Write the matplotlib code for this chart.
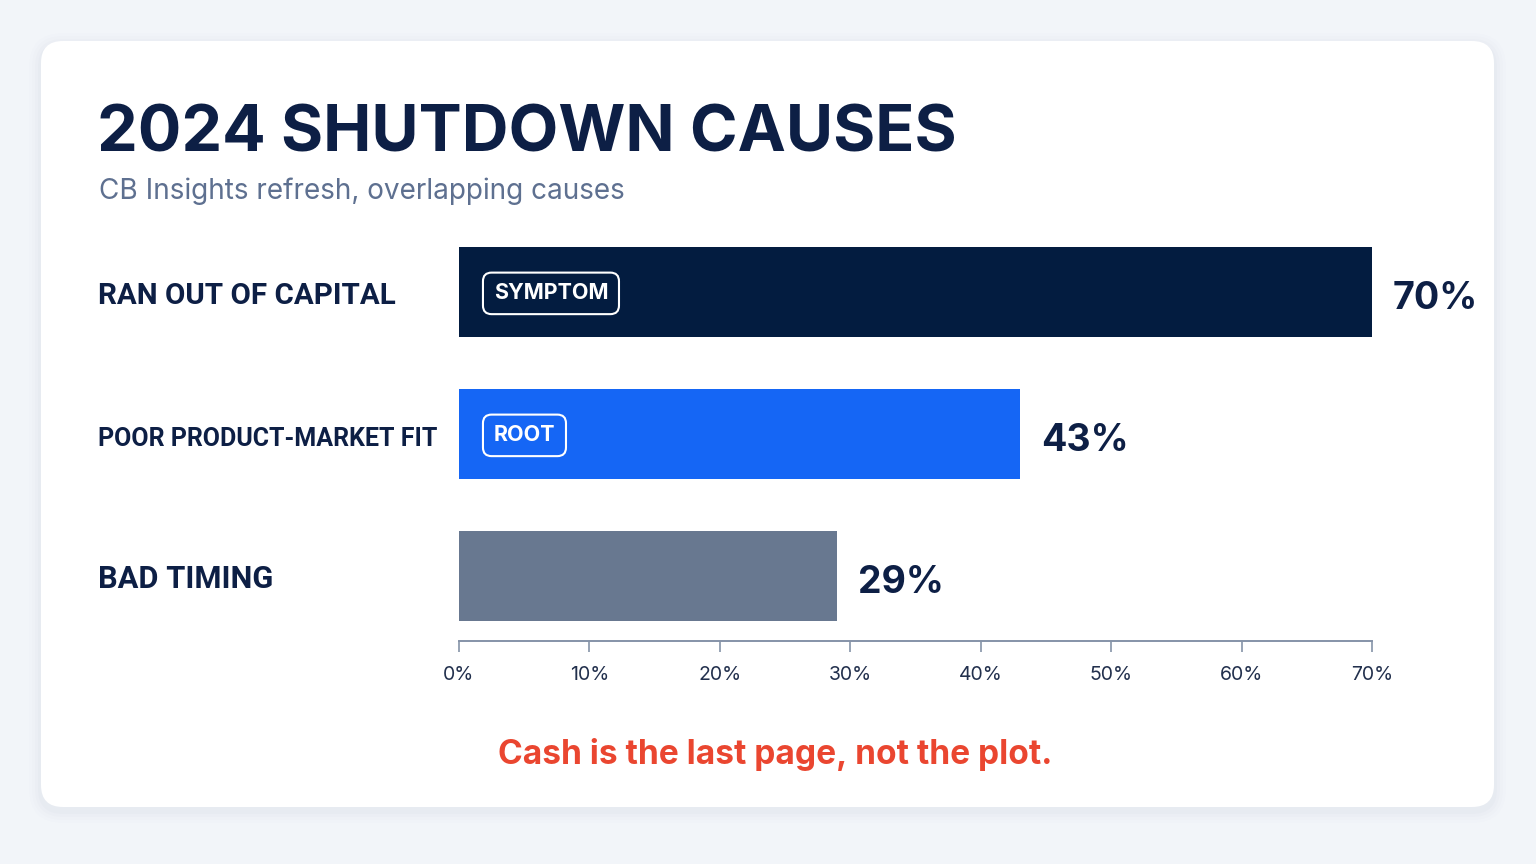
import matplotlib
matplotlib.use("Agg")
import matplotlib.pyplot as plt
from matplotlib.patches import FancyBboxPatch

# ---------------- data ----------------
categories = ["RAN OUT OF CAPITAL", "POOR PRODUCT-MARKET FIT", "BAD TIMING"]
values = [70, 43, 29]
badges = ["SYMPTOM", "ROOT", ""]
bar_colors = ["#031C40", "#1566F5", "#687890"]
xticks = [0, 10, 20, 30, 40, 50, 60, 70]
xtick_labels = [f"{t}%" for t in xticks]
title = "2024 SHUTDOWN CAUSES"
subtitle = "CB Insights refresh, overlapping causes"
footer = "Cash is the last page, not the plot."

# ---------------- style ----------------
W, H = 1536, 864
BG = "#F2F5F9"
NAVY = "#0D1F45"
SUB = "#5E7090"
RED = "#EA4630"
AXIS = "#8593A8"
FONT = ["Inter", "DejaVu Sans"]
LABEL_FONT = ["Liberation Sans Narrow", "Roboto", "DejaVu Sans"]

fig = plt.figure(figsize=(W / 100, H / 100), dpi=100)
fig.patch.set_facecolor(BG)

# pixel-space background axes
ax0 = fig.add_axes([0, 0, 1, 1], zorder=0)
ax0.set_xlim(0, W)
ax0.set_ylim(H, 0)
ax0.axis("off")

# card shadow + card
for i, a in enumerate([0.018, 0.014, 0.010, 0.006]):
    g = 3 + i * 3
    ax0.add_patch(FancyBboxPatch((41 - g, 41 - g + 4), 1453 + 2 * g, 766 + 2 * g,
                                 boxstyle=f"round,pad=0,rounding_size={22 + g}",
                                 fc="#51607a", ec="none", alpha=a))
ax0.add_patch(FancyBboxPatch((41, 41), 1453, 766,
                             boxstyle="round,pad=0,rounding_size=22",
                             fc="white", ec="none"))

renderer = fig.canvas.get_renderer()


def fit(t, target_w):
    w = t.get_window_extent(renderer).width
    t.set_fontsize(t.get_fontsize() * target_w / w)
    return t


fit(ax0.text(97, 152, title, fontsize=50, fontweight="bold", color=NAVY,
             family=FONT, va="baseline", ha="left"), 860)
fit(ax0.text(99, 199, subtitle, fontsize=22, color=SUB,
             family=FONT, va="baseline", ha="left"), 527)

label_baselines = [304, 446, 588]
label_widths = [297, 339, 175]
for cat, yb, lw_ in zip(categories, label_baselines, label_widths):
    fit(ax0.text(98, yb, cat, fontsize=22, fontweight="bold", color=NAVY,
                 family=LABEL_FONT, va="baseline", ha="left"), lw_)

ft = ax0.text(775, 764, footer, fontsize=22, fontweight="bold", color=RED,
              family=FONT, va="baseline", ha="center")
fit(ft, 553)

# ---------------- bar axes ----------------
x0_px, x1_px = 459, 1372
top_px, bot_px = 220, 641
ax = fig.add_axes([x0_px / W, 1 - bot_px / H, (x1_px - x0_px) / W, (bot_px - top_px) / H],
                  zorder=2)
ax.patch.set_alpha(0)
ypos = list(range(len(categories)))
ax.barh(ypos, values, height=0.64, color=bar_colors, zorder=2)
ax.set_xlim(0, 70)
ax.set_ylim(2.458, -0.507)
ax.set_yticks([])
for s in ["top", "right", "left"]:
    ax.spines[s].set_visible(False)
ax.spines["bottom"].set_color(AXIS)
ax.spines["bottom"].set_linewidth(1.4)
ax.set_xticks(xticks)
ax.set_xticklabels(xtick_labels, family=FONT, fontsize=14, color="#22304D")
ax.tick_params(axis="x", length=8, width=1.2, color=AXIS, pad=10)

# value labels
for i, v in enumerate(values):
    ax.annotate(f"{v}%", xy=(v, i), xytext=(15, -12.5), textcoords="offset points",
                ha="left", va="baseline", fontsize=27, fontweight="bold",
                color=NAVY, family=FONT)

# badges
for i, b in enumerate(badges):
    if not b:
        continue
    ax.annotate(b, xy=(0, i), xytext=(25, -1), textcoords="offset points",
                ha="left", va="center", fontsize=15.5, fontweight="bold",
                color="white", family=FONT,
                bbox=dict(boxstyle="round,pad=0.5,rounding_size=0.4",
                          fc="none", ec="white", lw=1.5))

fig.savefig("out.png", dpi=100, facecolor=BG)
